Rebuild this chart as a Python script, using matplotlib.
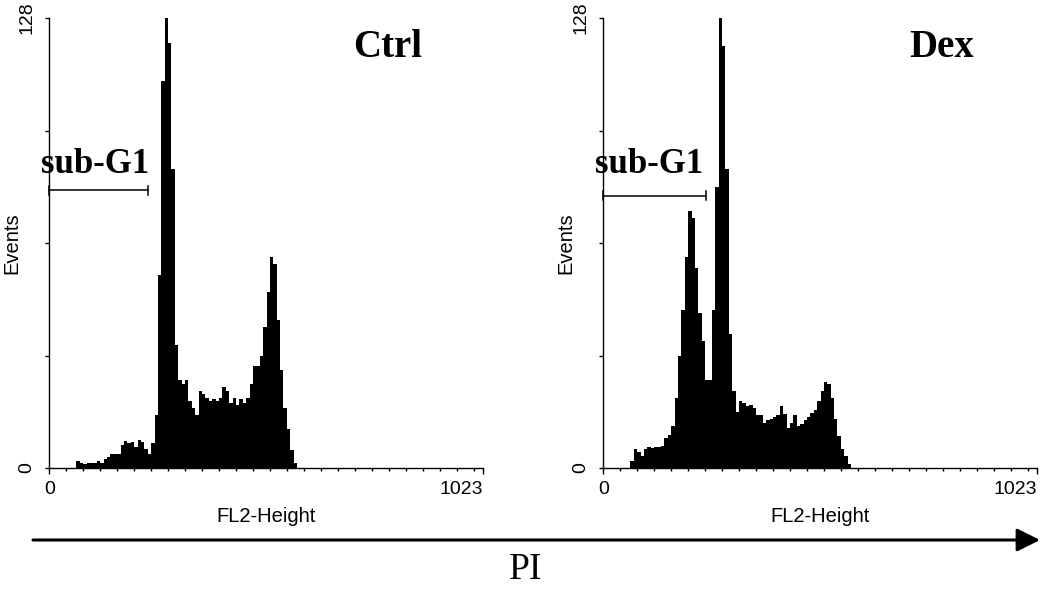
import numpy as np
import matplotlib
matplotlib.use("Agg")
import matplotlib.pyplot as plt

# FL2-Height histograms, 128 bins of 8 channels, counts
n_bins = 128
bin_width = 8
first_bin = 8

ctrl_counts = [2, 1.5, 1, 1.5, 1.5, 1.5, 2, 1.5, 2.5, 3, 4, 4, 4, 6.5, 7.8, 7, 7.5, 6, 8,
               7.5, 5.5, 4, 7, 15, 55, 110, 128, 121, 85, 35, 25, 24, 25, 19, 17, 15, 22,
               21, 20, 19, 19.5, 19, 20, 23, 22, 18.5, 20, 18, 19.5, 18.5, 20, 24, 29, 29,
               32, 40, 50, 60, 58, 42, 28, 17, 11, 5, 1.5]
dex_counts = [2, 5.5, 4.5, 3.5, 5.5, 6, 5.8, 6, 6, 6.2, 8.5, 9.5, 12, 20, 32, 45, 60, 73,
              71, 57, 44, 36, 25, 25, 45, 80, 128, 120, 85, 38, 22, 16, 19, 18.5, 17.5,
              18, 17, 15, 15, 12.8, 13.7, 14, 14.6, 15, 17.5, 15.5, 11.5, 12.8, 15, 12,
              12.5, 13.7, 14.6, 15.6, 16.5, 19, 22, 24.5, 24, 20, 14, 9, 5.5, 3.5, 1]

titles = ["Ctrl", "Dex"]
gate_end = [233, 243]      # sub-G1 gate upper channel
gate_level = [79, 77.4]    # height of gate marker (events)

sans = ["Liberation Sans", "DejaVu Sans"]
serif = ["Liberation Serif", "DejaVu Serif"]

fig = plt.figure(figsize=(10.5, 5.89), dpi=100)
W, H = 1050, 589

def full(counts):
    arr = np.zeros(n_bins)
    arr[first_bin:first_bin + len(counts)] = counts
    return arr

edges = np.arange(n_bins + 1) * bin_width
left_px = [49.3, 603.3]
for k, counts in enumerate([ctrl_counts, dex_counts]):
    ax = fig.add_axes([left_px[k] / W, 1 - 468 / H, 434 / W, 450 / H])
    ax.stairs(full(counts), edges, fill=True, color="black", linewidth=0)
    ax.set_xlim(0, 1023)
    ax.set_ylim(0, 128)
    for s in ["top", "right"]:
        ax.spines[s].set_visible(False)
    for s in ["left", "bottom"]:
        ax.spines[s].set_linewidth(1.0)

    ax.set_xticks([0, 1023])
    ax.set_xticklabels(["0", "1023"], family=sans, fontsize=14)
    ax.get_xticklabels()[1].set_horizontalalignment("right")
    ax.set_xticks(np.arange(40, 1001, 40), minor=True)
    ax.tick_params(axis="x", which="major", length=4, width=1, pad=5)
    ax.tick_params(axis="x", which="minor", length=2.5, width=1)

    ax.set_yticks([0, 128])
    ax.set_yticklabels(["0", "128"], family=sans, fontsize=14, rotation=90, va="center")
    ax.set_yticks([32, 64, 96], minor=True)
    ax.tick_params(axis="y", which="both", length=3, width=1, pad=7)

    ax.text(-0.087, 0.5, "Events", transform=ax.transAxes, rotation=90,
            ha="center", va="center", family=sans, fontsize=14.5)
    ax.text(0.5, -0.107, "FL2-Height", transform=ax.transAxes,
            ha="center", va="center", family=sans, fontsize=14.5)
    ax.text(0.779, 0.913, titles[k], transform=ax.transAxes, ha="center",
            va="baseline", family=serif, fontsize=28, fontweight="bold")

    # sub-G1 gate marker
    g = gate_level[k]
    ax.plot([0, gate_end[k]], [g, g], color="black", lw=1.1, clip_on=False)
    ax.plot([0, 0], [g - 1.3, g + 1.3], color="black", lw=1.1, clip_on=False)
    ax.plot([gate_end[k]] * 2, [g - 1.3, g + 1.3], color="black", lw=1.1, clip_on=False)
    ax.text(108, 84, "sub-G1", ha="center", va="baseline", family=serif,
            fontsize=25, fontweight="bold", clip_on=False)

# overlay for the PI arrow
ov = fig.add_axes([0, 0, 1, 1])
ov.set_xlim(0, W)
ov.set_ylim(H, 0)
ov.axis("off")
ov.patch.set_alpha(0)
ov.annotate("", xy=(1040, 540), xytext=(33, 540),
            arrowprops=dict(arrowstyle="-|>,head_length=0.7,head_width=0.35",
                            lw=2.2, color="black", mutation_scale=20,
                            shrinkA=0, shrinkB=0))
ov.text(526, 587, "PI", ha="center", va="bottom", family=serif, fontsize=27)

fig.savefig("out.png", dpi=100)
